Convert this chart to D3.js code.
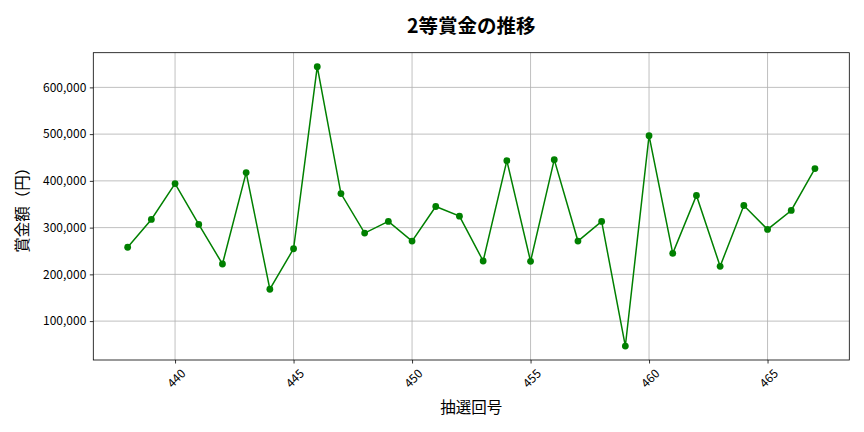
<!DOCTYPE html>
<html><head><meta charset="utf-8">
<script src="https://cdn.jsdelivr.net/npm/d3@7"></script>
<style>body{margin:0;background:#fff}svg{display:block}text{font-family:"Noto Sans CJK JP","Noto Sans",sans-serif;fill:#000}</style>
</head><body>
<script>
const draws = [438,439,440,441,442,443,444,445,446,447,448,449,450,451,452,453,454,455,456,457,458,459,460,461,462,463,464,465,466,467];
const prizes = [258000,317500,394200,306800,222200,417700,168200,254800,644300,372900,288300,313200,271200,345200,324500,228600,443300,227900,445400,271200,313200,46700,496600,245000,368700,217300,347300,296200,336700,426200];
const xTicks = [440,445,450,455,460,465];
const yTicks = [100000,200000,300000,400000,500000,600000];
const title = "2等賞金の推移", xLabel = "抽選回号", yLabel = "賞金額（円）";

const W=864,H=432, m={l:93.3,r:864-849.3,t:52.7,b:432-360};
const svg=d3.select("body").append("svg").attr("width",W).attr("height",H);
const xmin=d3.min(draws),xmax=d3.max(draws),xp=(xmax-xmin)*0.05;
const ymin=d3.min(prizes),ymax=d3.max(prizes),yp=(ymax-ymin)*0.05;
const x=d3.scaleLinear().domain([xmin-xp,xmax+xp]).range([m.l,W-m.r]);
const y=d3.scaleLinear().domain([ymin-yp,ymax+yp]).range([H-m.b,m.t]);

const g=svg.append("g");
// grid
g.selectAll(".gx").data(xTicks).join("line").attr("x1",d=>x(d)).attr("x2",d=>x(d)).attr("y1",m.t).attr("y2",H-m.b).attr("stroke","#b0b0b0").attr("stroke-width",0.8);
g.selectAll(".gy").data(yTicks).join("line").attr("y1",d=>y(d)).attr("y2",d=>y(d)).attr("x1",m.l).attr("x2",W-m.r).attr("stroke","#b0b0b0").attr("stroke-width",0.8);

// axes
const xa=svg.append("g").attr("transform",`translate(0,${H-m.b})`).call(d3.axisBottom(x).tickValues(xTicks).tickSize(3.5).tickPadding(3).tickFormat(d3.format("d")));
xa.selectAll("text").attr("font-size",12).attr("text-anchor","middle").attr("dy",null).attr("y",0)
  .attr("transform","translate(0,17.5) rotate(-45)").attr("dominant-baseline","central");
const ya=svg.append("g").attr("transform",`translate(${m.l},0)`).call(d3.axisLeft(y).tickValues(yTicks).tickSize(3.5).tickPadding(3.5).tickFormat(d3.format(",")));
ya.selectAll("text").attr("font-size",12);
svg.selectAll(".domain").remove();
svg.selectAll(".tick line").attr("stroke","#000").attr("stroke-width",0.8);
svg.append("rect").attr("x",m.l).attr("y",m.t).attr("width",W-m.r-m.l).attr("height",H-m.b-m.t).attr("fill","none").attr("stroke","#000").attr("stroke-width",0.8);

// line
svg.append("path").datum(draws.map((d,i)=>[d,prizes[i]])).attr("fill","none").attr("stroke","#008000").attr("stroke-width",1.5)
  .attr("d",d3.line().x(d=>x(d[0])).y(d=>y(d[1])));
svg.selectAll(".pt").data(draws.map((d,i)=>[d,prizes[i]])).join("circle").attr("cx",d=>x(d[0])).attr("cy",d=>y(d[1])).attr("r",3.4).attr("fill","#008000");

// labels
svg.append("text").attr("x",(m.l+W-m.r)/2).attr("y",33).attr("text-anchor","middle").attr("font-size",19.5).attr("font-weight","bold").text(title);
svg.append("text").attr("x",(m.l+W-m.r)/2).attr("y",413).attr("text-anchor","middle").attr("font-size",15.5).text(xLabel);
svg.append("text").attr("transform",`translate(28,${(m.t+H-m.b)/2}) rotate(-90)`).attr("text-anchor","middle").attr("font-size",15.5).text(yLabel);
</script>
</body></html>
